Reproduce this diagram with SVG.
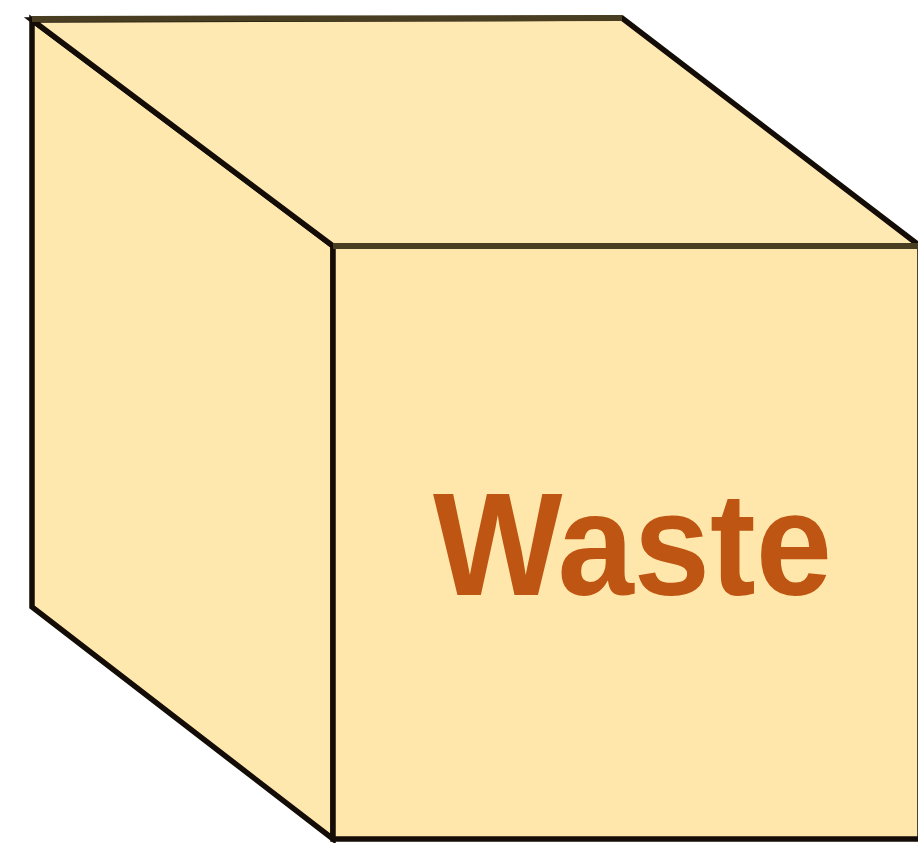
<svg xmlns="http://www.w3.org/2000/svg" width="918" height="843" viewBox="0 0 918 843">
<style>
.face{fill:#ffe8ae;stroke:#140c06;stroke-width:5.5;stroke-linejoin:miter}
.edge{fill:none;stroke:#4a3e22;stroke-width:6}
.label{font-family:"Liberation Sans",Arial,sans-serif;font-weight:bold;font-size:146px;fill:#bf5512}
</style>
<rect width="918" height="843" fill="#ffffff"/>
<g id="cube">
<polygon class="face" points="32,20 333,246 333,839 32,607"/>
<polygon class="face" points="32,20 622,18 920,246 333,246" style="fill:#ffe9b2"/>
<polygon class="face" points="333,246 920,246 920,839 333,839" style="fill:#ffe7ab"/>
<line class="edge" x1="32" y1="19" x2="622" y2="18"/>
<line class="edge" x1="333" y1="246" x2="918" y2="246"/>
<text class="label" x="433" y="595" textLength="399" lengthAdjust="spacingAndGlyphs">Waste</text>
</g>
</svg>
